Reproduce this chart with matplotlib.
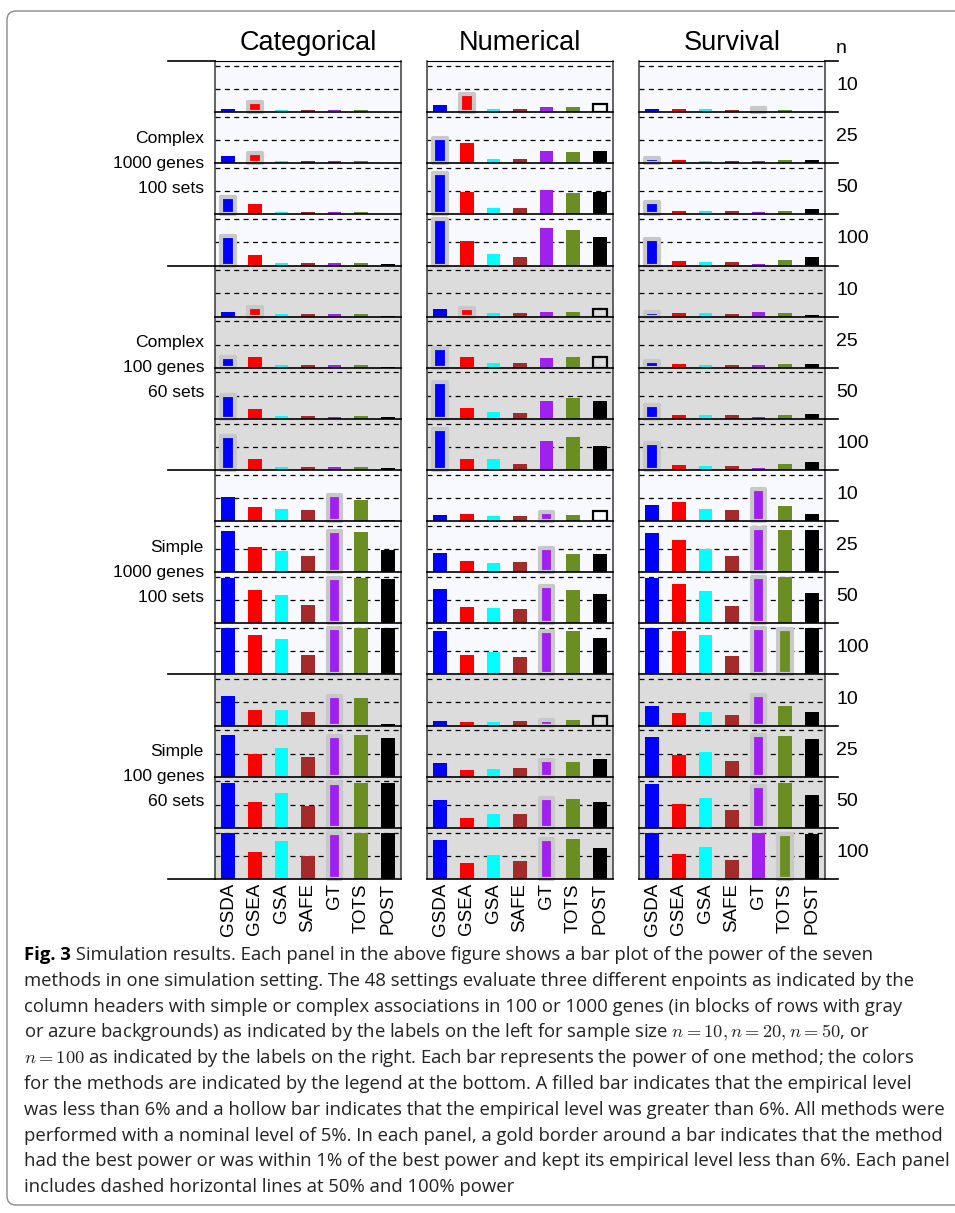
import numpy as np
import matplotlib.pyplot as plt
from matplotlib.patches import FancyBboxPatch
from matplotlib.transforms import IdentityTransform

plt.rcParams['font.family'] = ['Liberation Sans', 'DejaVu Sans']
plt.rcParams['mathtext.fontset'] = 'cm'

methods = ["GSDA", "GSEA", "GSA", "SAFE", "GT", "TOTS", "POST"]
method_colors = ["#0000FF", "#FF0000", "#00FFFF", "#A52A2A", "#A020F0", "#6B8E23", "#000000"]
endpoints = ["Categorical", "Numerical", "Survival"]
sample_sizes = ["10", "25", "50", "100"]
settings = [["Complex", "1000 genes", "100 sets"],
            ["Complex", "100 genes", "60 sets"],
            ["Simple", "1000 genes", "100 sets"],
            ["Simple", "100 genes", "60 sets"]]
setting_bg = ["#F8F8FF", "#DCDCDC", "#F8F8FF", "#DCDCDC"]

# power per panel row (4 settings x 4 sample sizes), one value per method
categorical_power = [
    [0.07, 0.22, 0.05, 0.05, 0.05, 0.05, 0.00],
    [0.16, 0.23, 0.04, 0.05, 0.05, 0.05, 0.00],
    [0.38, 0.22, 0.05, 0.05, 0.05, 0.05, 0.00],
    [0.63, 0.22, 0.05, 0.05, 0.05, 0.05, 0.03],
    [0.10, 0.21, 0.06, 0.06, 0.06, 0.06, 0.01],
    [0.24, 0.23, 0.06, 0.06, 0.06, 0.06, 0.01],
    [0.52, 0.21, 0.06, 0.06, 0.04, 0.06, 0.04],
    [0.73, 0.23, 0.06, 0.06, 0.06, 0.06, 0.04],
    [0.52, 0.30, 0.26, 0.24, 0.57, 0.46, 0.02],
    [0.89, 0.54, 0.46, 0.35, 0.89, 0.87, 0.48],
    [0.98, 0.72, 0.61, 0.39, 0.98, 0.98, 0.96],
    [1.00, 0.85, 0.76, 0.43, 1.00, 1.00, 1.00],
    [0.64, 0.33, 0.33, 0.29, 0.64, 0.59, 0.03],
    [0.90, 0.49, 0.62, 0.42, 0.88, 0.90, 0.83],
    [0.96, 0.55, 0.75, 0.46, 0.96, 0.96, 0.96],
    [0.99, 0.58, 0.82, 0.49, 0.99, 0.99, 0.99],
]
numerical_power = [
    [0.16, 0.40, 0.07, 0.07, 0.12, 0.12, 0.17],
    [0.54, 0.44, 0.09, 0.09, 0.27, 0.25, 0.27],
    [0.88, 0.49, 0.14, 0.14, 0.53, 0.46, 0.49],
    [0.99, 0.53, 0.25, 0.18, 0.81, 0.77, 0.62],
    [0.17, 0.19, 0.08, 0.08, 0.10, 0.10, 0.17],
    [0.43, 0.23, 0.10, 0.10, 0.21, 0.23, 0.23],
    [0.80, 0.23, 0.14, 0.12, 0.38, 0.45, 0.38],
    [0.88, 0.23, 0.23, 0.12, 0.62, 0.71, 0.51],
    [0.13, 0.15, 0.11, 0.11, 0.20, 0.13, 0.22],
    [0.41, 0.24, 0.20, 0.22, 0.52, 0.39, 0.39],
    [0.74, 0.35, 0.33, 0.30, 0.81, 0.72, 0.63],
    [0.93, 0.41, 0.48, 0.37, 0.93, 0.93, 0.78],
    [0.09, 0.07, 0.07, 0.09, 0.13, 0.12, 0.20],
    [0.29, 0.14, 0.16, 0.18, 0.37, 0.31, 0.38],
    [0.59, 0.22, 0.29, 0.29, 0.65, 0.62, 0.55],
    [0.84, 0.34, 0.51, 0.38, 0.86, 0.86, 0.67],
]
survival_power = [
    [0.07, 0.07, 0.07, 0.05, 0.09, 0.05, 0.00],
    [0.12, 0.07, 0.05, 0.05, 0.05, 0.07, 0.07],
    [0.27, 0.07, 0.07, 0.07, 0.05, 0.07, 0.12],
    [0.57, 0.09, 0.07, 0.07, 0.03, 0.12, 0.18],
    [0.09, 0.08, 0.08, 0.06, 0.10, 0.08, 0.03],
    [0.14, 0.08, 0.06, 0.06, 0.06, 0.08, 0.08],
    [0.30, 0.08, 0.08, 0.08, 0.04, 0.08, 0.10],
    [0.58, 0.10, 0.08, 0.08, 0.04, 0.12, 0.17],
    [0.35, 0.41, 0.26, 0.24, 0.70, 0.33, 0.15],
    [0.85, 0.70, 0.50, 0.35, 0.96, 0.91, 0.91],
    [0.98, 0.85, 0.70, 0.37, 0.99, 1.00, 0.65],
    [1.00, 0.93, 0.85, 0.39, 1.00, 0.98, 1.00],
    [0.42, 0.27, 0.29, 0.22, 0.65, 0.42, 0.29],
    [0.86, 0.46, 0.53, 0.33, 0.89, 0.88, 0.81],
    [0.94, 0.51, 0.64, 0.38, 0.91, 0.96, 0.70],
    [0.99, 0.54, 0.69, 0.41, 0.99, 0.97, 0.97],
]

# methods with the best power (gold border), per panel row
categorical_best = [[1], [1], [0], [0], [1], [0], [0], [0],
                    [4], [4], [4], [4], [4], [4], [4], [4]]
numerical_best = [[1], [0], [0], [0], [1], [0], [0], [0],
                  [4], [4], [4], [4], [4], [4], [4], [4]]
survival_best = [[4], [0], [0], [0], [0], [0], [0], [0],
                 [4], [4], [4], [4, 5], [4], [4], [4], [5]]

# (row, method) pairs with empirical level above 6% (hollow bars)
categorical_hollow = []
numerical_hollow = [(0, 6), (4, 6), (5, 6), (8, 6), (12, 6)]
survival_hollow = []

all_power = [categorical_power, numerical_power, survival_power]
all_best = [categorical_best, numerical_best, survival_best]
all_hollow = [categorical_hollow, numerical_hollow, survival_hollow]

W, H = 955, 1213
fig = plt.figure(figsize=(W / 100, H / 100), dpi=100)

col_left = [215, 427, 639]
col_w = 186
top = 61
row_h = 818 / 16
x = np.arange(len(methods))

# draw from the bottom up so halos of upper panels sit on top
for r in reversed(range(16)):
    group = r // 4
    y0 = top + (r + 1) * row_h
    for c in range(3):
        ax = fig.add_axes([col_left[c] / W, 1 - y0 / H, col_w / W, row_h / H])
        ax.set_facecolor(setting_bg[group])
        ax.set_xlim(-0.5, 6.5)
        ax.set_ylim(0, 1.1)
        for lev in (0.5, 1.0):
            ax.axhline(lev, color="black", lw=0.9, ls=(0, (4, 3.5)), zorder=1)
        vals = np.array(all_power[c][r])
        hollow = [m for (rr, m) in all_hollow[c] if rr == r]
        best = all_best[c][r]
        for m in range(len(methods)):
            if m in hollow:
                ax.bar(x[m], vals[m], width=0.52, facecolor="none", edgecolor="black",
                       lw=1.6, zorder=3)
            elif m in best:
                ax.bar(x[m], vals[m], width=0.52, color=method_colors[m],
                       edgecolor="#c8c8c8", lw=3.0, joinstyle="round", zorder=3,
                       clip_on=False)
            else:
                ax.bar(x[m], vals[m], width=0.52, color=method_colors[m], zorder=3)
        for side in ("left", "right"):
            ax.spines[side].set_color("#3a3a3a")
            ax.spines[side].set_linewidth(1.1)
        ax.spines["bottom"].set_color("black")
        ax.spines["bottom"].set_linewidth(1.2)
        ax.spines["bottom"].set_zorder(4)
        ax.spines["top"].set_visible(r == 0)
        ax.spines["top"].set_color("black")
        ax.set_yticks([])
        if r == 15:
            ax.set_xticks(x)
            ax.set_xticklabels(methods, rotation=90, fontsize=13.5, va="top")
            ax.tick_params(axis="x", length=0, pad=3)
        else:
            ax.set_xticks([])
        if c == 2:
            fig.text(836 / W, 1 - (y0 - row_h / 2 - 1) / H, sample_sizes[r % 4],
                     fontsize=14, ha="left", va="center")
            fig.add_artist(plt.Line2D([825 / W, 838 / W], [1 - y0 / H] * 2,
                                      color="black", lw=1.2))

# group boundary lines on the left and row-group labels
for g in range(5):
    yy = top + g * 4 * row_h
    fig.add_artist(plt.Line2D([168 / W, 215 / W], [1 - yy / H] * 2, color="black", lw=1.2))
fig.add_artist(plt.Line2D([825 / W, 838 / W], [1 - top / H] * 2, color="black", lw=1.2))

for g in range(4):
    yc = top + (g * 4 + 2) * row_h
    for k, txt in enumerate(settings[g]):
        fig.text(204 / W, 1 - (yc + (k - 1) * 25.2) / H, txt, fontsize=12.6,
                 ha="right", va="center")

for c in range(3):
    fig.text((col_left[c] + col_w / 2) / W, 1 - 50 / H, endpoints[c], fontsize=19.5,
             ha="center", va="baseline")
fig.text(836 / W, 1 - 53 / H, "n", fontsize=14, ha="left", va="baseline")

# caption frame and text
frame = FancyBboxPatch((7, H - 1205), 1000, 1194, boxstyle="round,pad=0,rounding_size=9",
                       transform=IdentityTransform(), fill=False, ec="#8a8a8a", lw=1.0)
fig.add_artist(frame)

caption_lines = [
    " Simulation results. Each panel in the above figure shows a bar plot of the power of the seven",
    "methods in one simulation setting. The 48 settings evaluate three different enpoints as indicated by the",
    "column headers with simple or complex associations in 100 or 1000 genes (in blocks of rows with gray",
    "or azure backgrounds) as indicated by the labels on the left for sample size $n=10, n=20, n=50$, or",
    "$n=100$ as indicated by the labels on the right. Each bar represents the power of one method; the colors",
    "for the methods are indicated by the legend at the bottom. A filled bar indicates that the empirical level",
    "was less than 6% and a hollow bar indicates that the empirical level was greater than 6%. All methods were",
    "performed with a nominal level of 5%. In each panel, a gold border around a bar indicates that the method",
    "had the best power or was within 1% of the best power and kept its empirical level less than 6%. Each panel",
    "includes dashed horizontal lines at 50% and 100% power",
]
cap_font = ["Open Sans", "DejaVu Sans"]
cap_size = 13.3
first_y = 960
line_gap = 25.8
renderer = fig.canvas.get_renderer()
bold = fig.text(24 / W, 1 - first_y / H, "Fig. 3", fontsize=cap_size, fontweight="bold",
                family=cap_font, ha="left", va="baseline")
bw = bold.get_window_extent(renderer).width
for i, line in enumerate(caption_lines):
    xx = 24 + (bw if i == 0 else 0)
    fig.text(xx / W, 1 - (first_y + i * line_gap) / H, line, fontsize=cap_size,
             family=cap_font, ha="left", va="baseline", color="#222222")

fig.savefig("out.png", dpi=100)
